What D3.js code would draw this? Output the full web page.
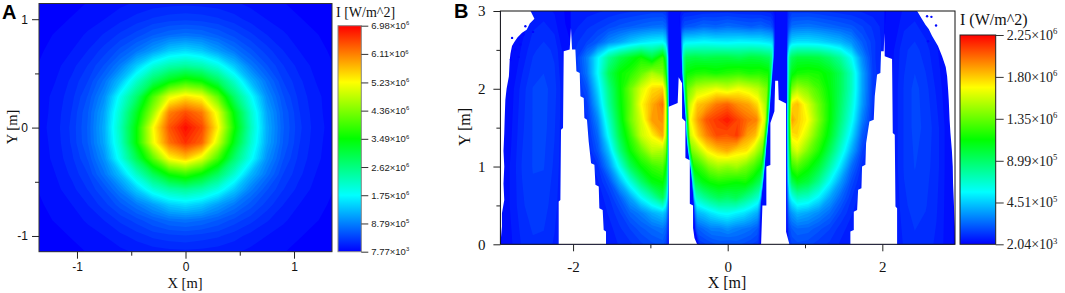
<!DOCTYPE html>
<html lang="en">
<head>
<meta charset="UTF-8">
<title>Irradiance maps</title>
<script src="https://d3js.org/d3.v7.min.js"></script>
<style>
    html, body { margin: 0; padding: 0; background: #fff; }
    svg { display: block; }
    .serif text, text.serif { font-family: "Liberation Serif", serif; }
    .sans text, text.sans { font-family: "Liberation Sans", sans-serif; }
</style>
</head>
<body>
<script>
// colour ramp shared by both panels (fractions of the bar)
const rampStops = [0, 0.25, 0.5, 0.75, 1];
const rampColors = ["#0000ff", "#00ffff", "#00ff00", "#ffff00", "#ff0000"];

// panel A, intensity in 10^6 W/m^2
const aX = [-1.35, -1.2, -1.05, -0.9, -0.75, -0.6, -0.45, -0.3, -0.15, 0, 0.15, 0.3, 0.45, 0.6, 0.75, 0.9, 1.05, 1.2, 1.35];
const aY = [1.14, 1.0, 0.855, 0.71, 0.57, 0.43, 0.285, 0.14, 0, -0.14, -0.285, -0.43, -0.57, -0.71, -0.855, -1.0, -1.14];
const aField = [
    [.04,.06,.08,.11,.14,.18,.22,.25,.27,.28,.27,.25,.22,.18,.14,.11,.08,.06,.04],
    [.06,.08,.11,.15,.20,.27,.34,.41,.45,.47,.45,.41,.34,.26,.20,.15,.11,.08,.06],
    [.08,.11,.15,.22,.31,.42,.54,.68,.78,.83,.79,.68,.55,.42,.30,.22,.15,.11,.08],
    [.09,.14,.20,.30,.44,.63,.85,1.12,1.44,1.56,1.42,1.12,.85,.62,.44,.30,.20,.14,.09],
    [.11,.17,.26,.40,.60,.92,1.45,2.02,2.36,2.48,2.34,1.98,1.42,.90,.60,.40,.26,.17,.11],
    [.13,.20,.32,.49,.82,1.36,2.15,2.88,3.42,3.78,3.55,2.92,2.15,1.32,.83,.49,.32,.20,.13],
    [.15,.23,.36,.60,1.02,1.92,2.80,4.05,5.12,5.48,5.25,4.20,2.82,1.88,1.02,.60,.36,.23,.15],
    [.15,.24,.40,.68,1.18,2.16,3.30,4.60,6.15,6.50,6.20,5.10,3.45,2.18,1.18,.68,.40,.24,.15],
    [.16,.25,.42,.70,1.24,2.28,3.55,5.25,6.45,6.95,6.55,5.35,3.65,2.28,1.24,.70,.42,.25,.16],
    [.15,.24,.41,.69,1.20,2.18,3.55,5.15,6.25,6.70,6.35,4.95,3.35,2.15,1.20,.68,.40,.24,.15],
    [.14,.23,.37,.60,1.04,1.95,3.00,4.15,5.30,5.65,5.10,4.00,2.80,1.90,1.04,.60,.36,.23,.14],
    [.13,.20,.32,.49,.85,1.38,2.18,2.95,3.62,3.88,3.50,2.88,2.12,1.32,.84,.49,.32,.20,.13],
    [.11,.17,.26,.40,.60,.94,1.46,2.04,2.38,2.52,2.34,1.98,1.44,.92,.60,.40,.26,.17,.11],
    [.09,.14,.20,.30,.45,.65,.88,1.14,1.46,1.58,1.44,1.14,.88,.64,.45,.30,.20,.14,.09],
    [.08,.11,.15,.22,.30,.42,.54,.68,.80,.84,.79,.68,.55,.43,.31,.22,.15,.11,.08],
    [.06,.08,.11,.15,.20,.27,.34,.42,.46,.48,.45,.41,.34,.26,.20,.15,.11,.08,.06],
    [.04,.06,.08,.11,.14,.18,.22,.25,.27,.28,.27,.25,.22,.18,.14,.11,.08,.06,.04]
];
const aXTicks = [-1, 0, 1];
const aXMinor = [-0.5, 0.5];
const aYTicks = [-1, 0, 1];
const aYMinor = [-0.5, 0.5];
const aBarTicks = [7.77e3, 8.79e5, 1.75e6, 2.62e6, 3.49e6, 4.36e6, 5.23e6, 6.11e6, 6.98e6];

// panel B, intensity in 10^6 W/m^2, one block per lit section
const bRows = [3.0, 2.8, 2.6, 2.4, 2.2, 2.0, 1.8, 1.6, 1.4, 1.2, 1.0, 0.8, 0.6, 0.4, 0.2, 0];
const bLeftX = [-2.1, -1.96, -1.82, -1.68, -1.54, -1.4, -1.26, -1.12, -0.98, -0.84, -0.8, -0.78, -0.765];
const bLeftField = [
    [.06,.07,.08,.09,.10,.11,.12,.13,.14,.14,.12,.10,.07],
    [.07,.09,.12,.14,.17,.20,.22,.24,.26,.27,.24,.16,.09],
    [.08,.12,.16,.22,.32,.38,.46,.52,.56,.58,.50,.30,.12],
    [.08,.14,.30,.56,.82,.98,1.08,1.18,1.02,1.26,1.00,.60,.18],
    [.08,.12,.28,.58,.95,1.14,1.22,1.36,1.52,1.42,1.20,.70,.20],
    [.08,.10,.20,.50,.85,1.12,1.38,1.62,1.78,1.82,1.50,.90,.25],
    [.06,.10,.15,.42,.80,1.10,1.36,1.70,1.88,2.02,1.65,1.00,.30],
    [.06,.08,.12,.32,.70,1.05,1.38,1.62,1.92,1.95,1.65,1.05,.30],
    [.06,.06,.10,.25,.60,.98,1.26,1.58,1.72,1.90,1.60,1.00,.30],
    [.06,.06,.08,.20,.45,.85,1.15,1.35,1.55,1.52,1.40,.90,.28],
    [.06,.06,.07,.12,.32,.62,.95,1.15,1.26,1.32,1.15,.80,.25],
    [.06,.06,.06,.09,.18,.40,.65,.90,1.10,1.15,1.00,.70,.22],
    [.06,.06,.06,.07,.12,.22,.38,.58,.75,.95,.75,.50,.18],
    [.06,.06,.06,.06,.10,.15,.24,.30,.40,.46,.40,.28,.12],
    [.06,.06,.06,.06,.08,.12,.16,.21,.25,.28,.24,.16,.08],
    [.06,.06,.06,.06,.07,.10,.12,.15,.18,.20,.16,.10,.05]
];
// middle section: columns are fractions of its width, -1 left edge to 1 right edge
const bMidU = [-1, -0.98, -0.95, -0.9, -0.7, -0.5, -0.25, 0, 0.25, 0.5, 0.7, 0.9, 0.95, 0.98, 1];
const bMidField = [
    [.04,.05,.06,.08,.09,.10,.11,.11,.10,.10,.09,.08,.06,.05,.04],
    [.05,.10,.16,.20,.22,.25,.23,.26,.24,.22,.24,.20,.16,.10,.05],
    [.10,.30,.50,.55,.56,.58,.56,.55,.57,.56,.55,.52,.50,.30,.10],
    [.15,.50,.85,.98,1.00,.98,1.00,1.00,.97,1.02,1.00,.95,.85,.50,.15],
    [.15,.55,.95,1.15,1.20,1.22,1.18,1.22,1.25,1.20,1.22,1.18,1.00,.55,.15],
    [.15,.55,1.05,1.38,1.55,1.60,1.66,1.60,1.68,1.62,1.55,1.40,1.05,.55,.15],
    [.15,.60,1.10,1.55,1.82,1.88,2.00,2.05,1.95,1.90,1.78,1.50,1.10,.60,.15],
    [.15,.60,1.15,1.68,1.92,2.08,2.15,2.22,2.12,2.02,1.98,1.62,1.15,.60,.15],
    [.15,.60,1.10,1.60,1.82,1.98,2.10,2.08,2.14,1.92,1.85,1.55,1.10,.60,.15],
    [.15,.55,1.00,1.40,1.55,1.72,1.82,1.88,1.78,1.75,1.58,1.38,1.00,.55,.15],
    [.12,.50,.90,1.18,1.28,1.42,1.50,1.46,1.50,1.40,1.30,1.15,.90,.50,.12],
    [.10,.42,.75,.98,1.10,1.16,1.20,1.18,1.15,1.18,1.08,.95,.75,.42,.10],
    [.08,.30,.55,.70,.80,.88,.95,.92,.96,.86,.78,.68,.55,.30,.08],
    [.05,.18,.32,.42,.46,.52,.58,.60,.56,.52,.46,.40,.32,.18,.05],
    [.03,.10,.18,.22,.26,.30,.30,.34,.30,.28,.26,.22,.18,.10,.03],
    [.02,.06,.10,.14,.16,.18,.20,.18,.20,.18,.16,.14,.10,.06,.02]
];
const bMidEdgeY = [3, 2.5, 2.2, 1.6, 1.3, 0.92, 0.5, 0.2, 0];
const bMidEdgeLeft = [-0.63, -0.6, -0.59, -0.545, -0.53, -0.474, -0.44, -0.43, -0.39];
const bMidEdgeRight = [0.62, 0.605, 0.58, 0.535, 0.505, 0.475, 0.43, 0.425, 0.425];
const bRightX = [0.768, 0.78, 0.8, 0.83, 0.9, 1.04, 1.18, 1.32, 1.46, 1.6, 1.74, 1.88, 2.02, 2.16];
const bRightField = [
    [.06,.10,.12,.14,.14,.14,.13,.12,.11,.10,.09,.08,.07,.06],
    [.08,.15,.20,.26,.27,.28,.26,.24,.22,.20,.16,.12,.08,.06],
    [.10,.30,.42,.50,.52,.52,.50,.46,.42,.34,.22,.14,.08,.06],
    [.15,.55,.85,.95,1.02,1.02,1.00,.92,.80,.60,.32,.14,.08,.06],
    [.15,.55,.95,1.10,1.18,1.20,1.18,1.10,.95,.72,.38,.15,.08,.06],
    [.18,.60,1.05,1.40,1.52,1.42,1.28,1.12,.95,.72,.38,.14,.07,.06],
    [.20,.65,1.10,1.78,1.85,1.62,1.38,1.15,.92,.68,.36,.13,.07,.06],
    [.20,.70,1.15,1.92,1.82,1.70,1.42,1.14,.88,.62,.30,.11,.06,.06],
    [.20,.65,1.10,1.75,1.78,1.58,1.32,1.08,.80,.52,.22,.09,.06,.06],
    [.18,.60,1.00,1.52,1.62,1.40,1.20,.95,.68,.40,.16,.07,.06,.06],
    [.16,.55,.90,1.25,1.32,1.18,1.02,.78,.52,.26,.11,.06,.06,.06],
    [.14,.45,.75,.95,1.08,1.00,.82,.58,.36,.18,.08,.06,.06,.06],
    [.10,.32,.50,.60,.72,.68,.55,.38,.24,.13,.07,.06,.06,.06],
    [.08,.20,.30,.35,.42,.38,.32,.25,.16,.10,.06,.06,.06,.06],
    [.05,.12,.18,.22,.25,.24,.20,.16,.11,.08,.06,.06,.06,.06],
    [.03,.08,.12,.16,.18,.17,.14,.12,.09,.07,.06,.06,.06,.06]
];
const bSideRows = [3.0, 2.5, 2.0, 1.5, 1.0, 0.5, 0];
const bFarLeftX = [-2.94, -2.8, -2.66, -2.52, -2.38, -2.24, -2.1, -1.96];
const bFarLeftField = [
    [.01,.02,.04,.07,.08,.06,.03,.03],
    [.01,.03,.07,.12,.14,.12,.04,.03],
    [.02,.05,.11,.16,.17,.14,.06,.04],
    [.02,.06,.12,.16,.17,.13,.06,.04],
    [.03,.07,.13,.16,.16,.12,.06,.04],
    [.03,.07,.12,.15,.14,.11,.05,.04],
    [.03,.06,.10,.12,.12,.09,.05,.04]
];
const bFarRightX = [2.0, 2.14, 2.28, 2.42, 2.56, 2.7, 2.84, 2.98];
const bFarRightField = [
    [.03,.04,.07,.08,.06,.04,.02,.01],
    [.03,.06,.12,.14,.11,.07,.03,.01],
    [.04,.07,.13,.17,.14,.09,.04,.01],
    [.04,.07,.13,.17,.15,.11,.05,.02],
    [.04,.07,.13,.16,.14,.11,.05,.02],
    [.04,.06,.12,.14,.13,.10,.05,.02],
    [.04,.06,.10,.12,.11,.09,.05,.02]
];
const bGapLevel = 0.03; // dark strips between the sections

// outline of the flat sided sections, [x, y] in metres
const outlineFarLeft = [[-2.94,3],[-2.03,3],[-2.03,0],[-2.94,0]];
const outlineLeft = [[-2.03,3],[-0.763,3],[-0.763,0],[-2.03,0]];
const outlineRight = [[0.768,3],[2.03,3],[2.03,0],[0.785,0],[0.768,0.23]];
const outlineFarRight = [[2.03,3],[2.94,3],[2.94,0],[2.03,0]];

// unlit parts of the floor
const holeWedges = [
    [[-2.186,0],[-2.186,.549],[-2.164,.571],[-2.156,1.473],[-2.13,1.495],[-2.121,2.482],[-2.044,2.504],[-2.027,2.78],[-2.013,2.504],[-1.97,2.504],[-1.957,2.225],[-1.914,2.203],[-1.905,1.903],[-1.862,1.881],[-1.854,1.624],[-1.82,1.602],[-1.798,1.322],[-1.767,1.043],[-1.724,1.022],[-1.711,.765],[-1.668,.743],[-1.66,.463],[-1.617,.442],[-1.604,.184],[-1.574,.163],[-1.574,0]],
    [[-.76,0],[-.763,1.77],[-.647,1.817],[-.634,2.147],[-.59,2.07],[-.59,1.62],[-.547,1.58],[-.547,1.11],[-.49,1.08],[-.49,.52],[-.448,.5],[-.448,.21],[-.43,.08],[-.396,0]],
    [[.432,0],[.449,.5],[.5,.5],[.5,1.0],[.552,1.02],[.552,1.56],[.604,1.71],[.614,2.104],[.652,2.104],[.66,1.86],[.755,1.81],[.755,.16],[.798,0]],
    [[1.587,0],[1.587,.163],[1.631,.184],[1.631,.42],[1.674,.442],[1.687,.7],[1.73,.722],[1.738,1.0],[1.781,1.022],[1.79,1.3],[1.833,1.58],[1.889,1.602],[1.902,1.903],[1.932,2.182],[1.975,2.203],[1.984,2.482],[2.018,2.482],[2.027,2.718],[2.031,2.418],[2.126,2.384],[2.135,1.432],[2.161,1.41],[2.17,.485],[2.191,.463],[2.191,0]]
];
const holeFarLeft = [[-2.94,3],[-2.55,3],[-2.5,2.9],[-2.56,2.84],[-2.6,2.76],[-2.66,2.72],[-2.72,2.66],[-2.76,2.6],[-2.79,2.55],[-2.81,2.45],[-2.82,2.36],[-2.83,2.16],[-2.86,2.0],[-2.876,1.86],[-2.885,1.6],[-2.89,1.43],[-2.9,1.2],[-2.89,1.0],[-2.9,.78],[-2.89,.57],[-2.92,.4],[-2.92,.23],[-2.94,0]];
const holeFarRight = [[2.94,3],[2.45,3],[2.514,2.895],[2.56,2.82],[2.6,2.77],[2.644,2.68],[2.72,2.55],[2.773,2.418],[2.82,2.28],[2.838,2.16],[2.85,2.0],[2.859,1.86],[2.87,1.6],[2.881,1.43],[2.9,1.2],[2.911,1.0],[2.915,.78],[2.924,.57],[2.93,.4],[2.937,.228],[2.94,0]];
const speckLeft = [[-2.617,2.804],[-2.518,2.731],[-2.639,2.697],[-2.789,2.654],[-2.682,2.568],[-2.804,2.375],[-2.704,2.41],[-2.747,2.504]];
const speckRight = [[2.579,2.933],[2.635,2.925],[2.695,2.814],[2.592,2.611]];

const bXTicks = [-2, 0, 2];
const bXMinor = [-1, 1];
const bYTicks = [0, 1, 2, 3];
const bYMinor = [0.5, 1.5, 2.5];
const bBarTicks = [2.04e3, 4.51e5, 8.99e5, 1.35e6, 1.80e6, 2.25e6];

const width = 1065;
const height = 293;
const svg = d3.select("body").append("svg").attr("width", width).attr("height", height);
const defs = svg.append("defs");

function makeColor(lo, hi) {
    return d3.scaleLinear()
        .domain(rampStops.map(f => lo + f * (hi - lo)))
        .range(rampColors)
        .clamp(true);
}

// grid index -> metres, columns and rows may be unevenly spaced
function gridPlace(xs, ys) {
    const ci = d3.scaleLinear().domain(d3.range(xs.length)).range(xs);
    const ri = d3.scaleLinear().domain(d3.range(ys.length)).range(ys);
    return (c, r) => [ci(c), ri(r)];
}

// filled contours of one block of values
function drawField(parent, field, place, sx, sy, color, clipId) {
    const m = field.length, n = field[0].length;
    const [lo, hi] = d3.extent(color.domain());
    const levels = d3.range(0, 72).map(i => lo + i * (hi - lo) / 72);
    const shapes = d3.contours().size([n, m]).thresholds(levels)(field.flat());
    const path = d3.geoPath(d3.geoTransform({
        point(px, py) {
            const p = place(px - 0.5, py - 0.5);
            this.stream.point(sx(p[0]), sy(p[1]));
        }
    }));
    const g = parent.append("g");
    if (clipId) g.attr("clip-path", `url(#${clipId})`);
    g.selectAll("path")
        .data(shapes)
        .enter().append("path")
        .attr("d", path)
        .attr("fill", d => color(d.value));
}

function addClip(id, points, sx, sy) {
    defs.append("clipPath").attr("id", id).append("path")
        .attr("d", d3.line().x(d => sx(d[0])).y(d => sy(d[1])).curve(d3.curveLinearClosed)(points));
}

function drawAxes(g, sx, sy, xTicks, xMinor, yTicks, yMinor, cls, size, padX, padY) {
    const bottom = sy.range()[0], left = sx.range()[0];
    const xAxis = g.append("g").attr("class", cls).attr("transform", `translate(0,${bottom})`)
        .call(d3.axisBottom(sx).tickValues(xTicks).tickSize(7).tickPadding(padX).tickFormat(String));
    g.append("g").attr("transform", `translate(0,${bottom})`)
        .call(d3.axisBottom(sx).tickValues(xMinor).tickSize(4).tickFormat(""));
    const yAxis = g.append("g").attr("class", cls).attr("transform", `translate(${left},0)`)
        .call(d3.axisLeft(sy).tickValues(yTicks).tickSize(7).tickPadding(padY).tickFormat(String));
    g.append("g").attr("transform", `translate(${left},0)`)
        .call(d3.axisLeft(sy).tickValues(yMinor).tickSize(4).tickFormat(""));
    xAxis.selectAll("text").attr("font-size", size).attr("font-family", null).attr("fill", "#111");
    yAxis.selectAll("text").attr("font-size", size).attr("font-family", null).attr("fill", "#111");
    g.selectAll(".domain").remove();
    g.selectAll(".tick line").attr("stroke", "#222");
}

function drawFrame(g, sx, sy, color, w) {
    const [x0, x1] = sx.range();
    const [y1, y0] = sy.range();
    g.append("rect").attr("x", x0).attr("y", y0).attr("width", x1 - x0).attr("height", y1 - y0)
        .attr("fill", "none").attr("stroke", color).attr("stroke-width", w);
}

function drawBar(g, id, ticks, x0, x1, y0, y1, cls, fontSize, tickLen, edge) {
    const lo = ticks[0], hi = ticks[ticks.length - 1];
    const grad = defs.append("linearGradient").attr("id", id)
        .attr("x1", 0).attr("x2", 0).attr("y1", 1).attr("y2", 0);
    grad.selectAll("stop").data(rampStops).enter().append("stop")
        .attr("offset", d => d)
        .attr("stop-color", (d, i) => rampColors[i]);
    g.append("rect").attr("x", x0).attr("y", y0).attr("width", x1 - x0).attr("height", y1 - y0)
        .attr("fill", `url(#${id})`).attr("stroke", edge).attr("stroke-width", 1);
    const scale = d3.scaleLinear().domain([lo, hi]).range([y1, y0]);
    const axis = g.append("g").attr("class", cls).attr("transform", `translate(${x1},0)`)
        .call(d3.axisRight(scale).tickValues(ticks).tickSize(tickLen).tickPadding(3).tickFormat(""));
    axis.select(".domain").remove();
    axis.selectAll(".tick line").attr("stroke", "#333");
    axis.selectAll(".tick text")
        .attr("font-size", fontSize).attr("font-family", null).attr("fill", "#222")
        .each(function(v) {
            const exp = Math.floor(Math.log10(v));
            const mant = (v / Math.pow(10, exp)).toFixed(2);
            const t = d3.select(this);
            t.append("tspan").text(`${mant}×10`);
            t.append("tspan").text(exp).attr("font-size", fontSize * 0.62).attr("dy", -fontSize * 0.4);
        });
}

function addLabel(g, cls, size, text, x, y, rotate, anchor) {
    g.append("text").attr("class", cls)
        .attr("transform", `translate(${x},${y})` + (rotate ? " rotate(-90)" : ""))
        .attr("text-anchor", anchor || "middle")
        .attr("font-size", size).attr("fill", "#111").text(text);
}

// ----- panel A
const xA = d3.scaleLinear().domain([-1.35, 1.35]).range([39, 332]);
const yA = d3.scaleLinear().domain([-1.145, 1.145]).range([251.7, 3.5]);
const colorA = makeColor(aBarTicks[0] / 1e6, aBarTicks[8] / 1e6);
const gA = svg.append("g");
addClip("plotA", [[-1.35,-1.145],[1.35,-1.145],[1.35,1.145],[-1.35,1.145]], xA, yA);
gA.append("rect").attr("x", 39).attr("y", 3.5).attr("width", 293).attr("height", 248.2).attr("fill", colorA(0));
drawField(gA, aField, gridPlace(aX, aY), xA, yA, colorA, "plotA");
drawFrame(gA, xA, yA, "#333", 1);
drawAxes(gA, xA, yA, aXTicks, aXMinor, aYTicks, aYMinor, "sans", 12, 3.5, 4);
drawBar(gA, "barA", aBarTicks, 338, 361.3, 25.7, 251.7, "sans", 9.5, 7, "#888");
addLabel(gA, "serif", 14.5, "X [m]", 185, 288);
addLabel(gA, "serif", 14.5, "Y [m]", 17, 127, true);
addLabel(gA, "serif", 14, "I [W/m^2]", 336, 17, false, "start");
gA.append("text").attr("class", "sans").attr("x", 2).attr("y", 19).attr("font-size", 20).attr("font-weight", "bold").text("A");

// ----- panel B
const xB = d3.scaleLinear().domain([-2.94, 2.94]).range([500.4, 955]);
const yB = d3.scaleLinear().domain([0, 3]).range([244.3, 11]);
const colorB = makeColor(bBarTicks[0] / 1e6, bBarTicks[5] / 1e6);
const gB = svg.append("g");
gB.append("rect").attr("x", 500.4).attr("y", 11).attr("width", 454.6).attr("height", 233.3).attr("fill", colorB(bGapLevel));
addClip("farLeft", outlineFarLeft, xB, yB);
addClip("lobeLeft", outlineLeft, xB, yB);
addClip("lobeRight", outlineRight, xB, yB);
addClip("farRight", outlineFarRight, xB, yB);
addClip("lobeMid", [...bMidEdgeY.map((y, i) => [bMidEdgeLeft[i], y]), ...bMidEdgeY.map((y, i) => [bMidEdgeRight[i], y]).reverse()], xB, yB);

const midLeftAt = d3.scaleLinear().domain(bMidEdgeY).range(bMidEdgeLeft);
const midRightAt = d3.scaleLinear().domain(bMidEdgeY).range(bMidEdgeRight);
const midPlain = gridPlace(bMidU, bRows);
const midPlace = (c, r) => {
    const [u, y] = midPlain(c, r);
    return [midLeftAt(y) + (u + 1) / 2 * (midRightAt(y) - midLeftAt(y)), y];
};

drawField(gB, bFarLeftField, gridPlace(bFarLeftX, bSideRows), xB, yB, colorB, "farLeft");
drawField(gB, bLeftField, gridPlace(bLeftX, bRows), xB, yB, colorB, "lobeLeft");
drawField(gB, bMidField, midPlace, xB, yB, colorB, "lobeMid");
drawField(gB, bRightField, gridPlace(bRightX, bRows), xB, yB, colorB, "lobeRight");
drawField(gB, bFarRightField, gridPlace(bFarRightX, bSideRows), xB, yB, colorB, "farRight");

const outline = d3.line().x(d => xB(d[0])).y(d => yB(d[1])).curve(d3.curveLinearClosed);
gB.selectAll("path.hole")
    .data([...holeWedges, holeFarLeft, holeFarRight])
    .enter().append("path").attr("class", "hole")
    .attr("d", outline)
    .attr("fill", "#fff");
gB.selectAll("circle.speck")
    .data([...speckLeft, ...speckRight])
    .enter().append("circle").attr("class", "speck")
    .attr("cx", d => xB(d[0])).attr("cy", d => yB(d[1])).attr("r", 1.2)
    .attr("fill", colorB(0.02));

drawFrame(gB, xB, yB, "#111", 1);
drawAxes(gB, xB, yB, bXTicks, bXMinor, bYTicks, bYMinor, "serif", 15, 10, 8);
drawBar(gB, "barB", bBarTicks, 960, 995.7, 35, 244.3, "serif", 14, 8, "#222");
addLabel(gB, "serif", 16, "X [m]", 727, 288);
addLabel(gB, "serif", 16, "Y [m]", 470, 127, true);
addLabel(gB, "serif", 16, "I (W/m^2)", 960, 25, false, "start");
gB.append("text").attr("class", "sans").attr("x", 454).attr("y", 18).attr("font-size", 20).attr("font-weight", "bold").text("B");
</script>
</body>
</html>
